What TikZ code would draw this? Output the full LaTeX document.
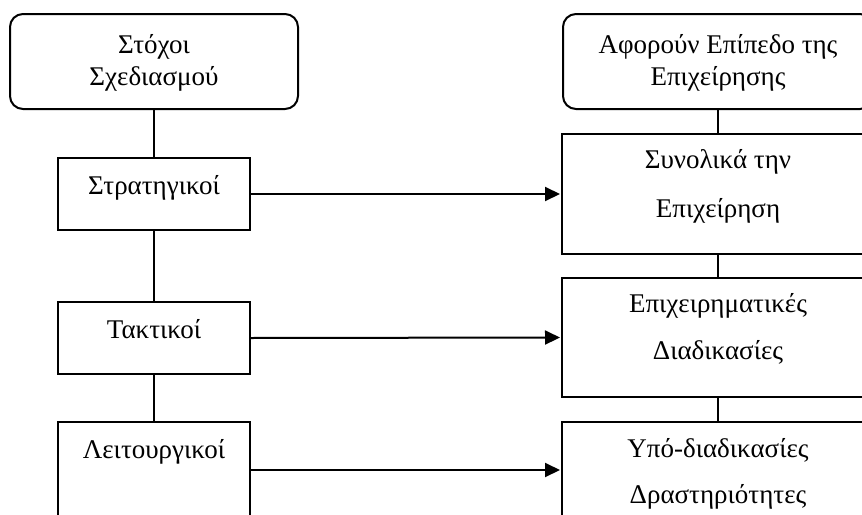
\documentclass[tikz,border=0pt]{standalone}
\usepackage{fontspec}
\setmainfont{Liberation Serif}
\usetikzlibrary{arrows.meta}
\begin{document}
\begin{tikzpicture}[x=1pt,y=-1pt,
  frame/.style={draw=black, line width=2pt, rectangle, inner sep=0pt, fill=white},
  roundframe/.style={frame, rounded corners=13pt},
  lbl/.style={anchor=base, inner sep=0pt, font=\fontsize{27}{32}\selectfont},
  link/.style={draw=black, line width=2pt},
  arr/.style={link, -{Triangle[length=15pt,width=14pt]}, shorten >=1pt}]
\useasboundingbox (0,0) rectangle (862,514);
\clip (0,0) rectangle (862,514);

% left column: kinds of planning goals
\node[roundframe, minimum width=288pt, minimum height=95pt] (goals) at (154,61.5) {};
\node[frame, minimum width=192pt, minimum height=72pt] (strat) at (154,194) {};
\node[frame, minimum width=192pt, minimum height=72pt] (tact) at (154,338) {};
\node[frame, minimum width=192pt, minimum height=96pt] (oper) at (154,470) {};

% right column: level of the enterprise they concern
\node[roundframe, minimum width=310pt, minimum height=95pt] (level) at (718,61.5) {};
\node[frame, minimum width=312pt, minimum height=120pt] (whole) at (718,194) {};
\node[frame, minimum width=312pt, minimum height=119pt] (proc) at (718,337.5) {};
\node[frame, minimum width=312pt, minimum height=96pt] (sub) at (718,470) {};

% labels
\node[lbl] (goals-a) at (154,53) {Στόχοι};
\node[lbl] (goals-b) at (154,85) {Σχεδιασμού};
\node[lbl] (level-a) at (718,53) {Αφορούν Επίπεδο της};
\node[lbl] (level-b) at (718,85) {Επιχείρησης};
\node[lbl] (strat-t) at (154,194) {Στρατηγικοί};
\node[lbl] (tact-t) at (154,338) {Τακτικοί};
\node[lbl] (oper-t) at (154,458) {Λειτουργικοί};
\node[lbl] (whole-a) at (718,168) {Συνολικά την};
\node[lbl] (whole-b) at (718,217) {Επιχείρηση};
\node[lbl] (proc-a) at (718,312) {Επιχειρηματικές};
\node[lbl] (proc-b) at (718,359) {Διαδικασίες};
\node[lbl] (sub-a) at (718,457) {Υπό-διαδικασίες};
\node[lbl] (sub-b) at (718,503) {Δραστηριότητες};

% vertical links
\draw[link] (goals.south) -- (strat.north);
\draw[link] (strat.south) -- (tact.north);
\draw[link] (tact.south) -- (oper.north);
\draw[link] (level.south) -- (whole.north);
\draw[link] (whole.south) -- (proc.north);
\draw[link] (proc.south) -- (sub.north);

% horizontal arrows
\draw[arr] (strat.east) -- (whole.west);
\draw[arr] (tact.east) -- (proc.west);
\draw[arr] (oper.east) -- (sub.west);
\end{tikzpicture}
\end{document}
